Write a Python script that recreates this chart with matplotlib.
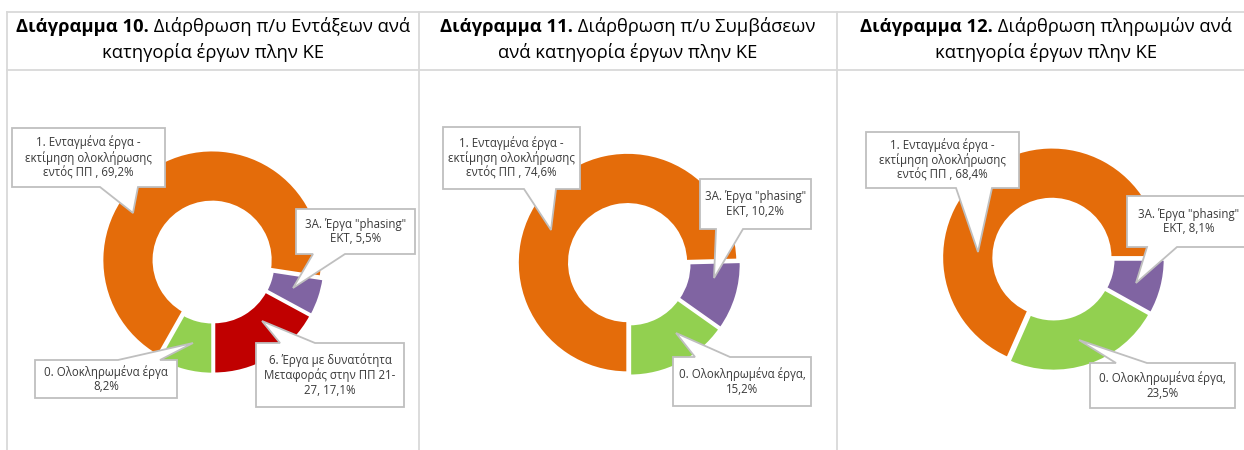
import matplotlib
matplotlib.use('Agg')
import matplotlib.pyplot as plt
from matplotlib.patches import Polygon

plt.rcParams['font.family'] = ['Open Sans', 'DejaVu Sans']

W, H = 1244, 450

# --- data (slices listed in the order they are drawn, clockwise) ---
title_bold = ['Διάγραμμα 10.', 'Διάγραμμα 11.', 'Διάγραμμα 12.']
title_rest = [' Διάρθρωση π/υ Εντάξεων ανά', ' Διάρθρωση π/υ Συμβάσεων', ' Διάρθρωση πληρωμών ανά']
title_line2 = ['κατηγορία έργων πλην ΚΕ', 'ανά κατηγορία έργων πλην ΚΕ', 'κατηγορία έργων πλην ΚΕ']

cats_10 = ['0', '1', '3A', '6']
vals_10 = [8.2, 69.2, 5.5, 17.1]
cats_11 = ['1', '3A', '0']
vals_11 = [74.6, 10.2, 15.2]
cats_12 = ['3A', '0', '1']
vals_12 = [8.1, 23.5, 68.4]

colors = {'0': '#92D050', '1': '#E46C0A', '3A': '#8064A2', '6': '#C00000'}

label_fmt_10 = {'0': '0. Ολοκληρωμένα έργα\n{}%',
                '1': '1. Ενταγμένα έργα -\nεκτίμηση ολοκλήρωσης\nεντός ΠΠ , {}%',
                '3A': '3Α. Έργα "phasing"\nΕΚΤ, {}%',
                '6': '6. Έργα με δυνατότητα\nΜεταφοράς στην ΠΠ 21-\n27, {}%'}
label_fmt_11 = dict(label_fmt_10, **{'0': '0. Ολοκληρωμένα έργα,\n{}%'})
label_fmt_12 = label_fmt_11

# --- layout in image pixels (y down) ---
panel_cx = [213, 628, 1046]
donut_c = [(213, 262), (629, 264), (1053, 259)]
start = [-90, -90, 0]
R = 110

# box (x0, y0, x1, y1), tip, side of pointer, pointer base
callouts = [
    {'1': ((12, 128, 165, 187), (133, 213), 'bottom', (100, 138)),
     '3A': ((296, 209, 415, 254), (293, 288), 'bottom', (313, 345)),
     '6': ((256, 343, 404, 407), (262, 321), 'top', (280, 315)),
     '0': ((35, 360, 177, 398), (193, 343), 'top', (118, 160))},
    {'1': ((443, 127, 580, 189), (551, 230), 'bottom', (524, 556)),
     '3A': ((700, 179, 811, 229), (714, 278), 'bottom', (716, 743)),
     '0': ((673, 357, 811, 406), (676, 333), 'top', (695, 730))},
    {'1': ((866, 132, 1019, 188), (978, 252), 'bottom', (956, 992)),
     '3A': ((1127, 196, 1250, 247), (1136, 283), 'bottom', (1147, 1177)),
     '0': ((1090, 363, 1235, 408), (1079, 340), 'top', (1116, 1147))},
]


def fy(y):
    return H - y


def callout(ax, text, box, tip, side, base):
    x0, y0, x1, y1 = box
    b0, b1 = base
    if side == 'bottom':
        pts = [(x0, y0), (x1, y0), (x1, y1), (b1, y1), tip, (b0, y1), (x0, y1)]
    else:
        pts = [(x0, y0), (b0, y0), tip, (b1, y0), (x1, y0), (x1, y1), (x0, y1)]
    ax.add_patch(Polygon([(x, fy(y)) for x, y in pts], closed=True,
                         fc='white', ec='#BFBFBF', lw=1.3, zorder=5))
    ax.text((x0 + x1) / 2, fy((y0 + y1) / 2), text, ha='center', va='center',
            fontsize=8.3, color='#3A3A3A', linespacing=1.15, zorder=6)


fig = plt.figure(figsize=(W / 100, H / 100), dpi=100)
ax = fig.add_axes([0, 0, 1, 1])

# table-like frame
grid = '#D9D9D9'
ax.plot([7, W], [fy(12), fy(12)], color=grid, lw=1.3)
ax.plot([7, W], [fy(70), fy(70)], color=grid, lw=1.3)
for x in [7, 419, 837]:
    ax.plot([x, x], [fy(12), 0], color=grid, lw=1.3)

panels = [(cats_10, vals_10, label_fmt_10),
          (cats_11, vals_11, label_fmt_11),
          (cats_12, vals_12, label_fmt_12)]

renderer = fig.canvas.get_renderer()
for i, (cats, vals, fmt) in enumerate(panels):
    cx, cy = donut_c[i]
    ax.pie(vals, colors=[colors[c] for c in cats], startangle=start[i],
           counterclock=False, radius=R, center=(cx, fy(cy)),
           explode=[2] * len(vals),
           wedgeprops=dict(width=R * 0.47, edgecolor='white', linewidth=1.8))
    for c, v in zip(cats, vals):
        box, tip, side, base = callouts[i][c]
        callout(ax, fmt[c].format(f'{v:.1f}'.replace('.', ',')), box, tip, side, base)

    # title: bold prefix + regular text, centred as one line
    t1 = ax.text(0, fy(27), title_bold[i], fontsize=13.2, fontweight='bold', va='center', ha='left')
    t2 = ax.text(0, fy(27), title_rest[i], fontsize=13.2, va='center', ha='left')
    w1 = t1.get_window_extent(renderer).width
    w2 = t2.get_window_extent(renderer).width
    x0 = panel_cx[i] - (w1 + w2) / 2
    t1.set_x(x0)
    t2.set_x(x0 + w1)
    ax.text(panel_cx[i], fy(53), title_line2[i], fontsize=13.2, va='center', ha='center')

ax.set_xlim(0, W)
ax.set_ylim(0, H)
ax.set_aspect('auto')
ax.axis('off')

fig.savefig('out.png', dpi=100)
